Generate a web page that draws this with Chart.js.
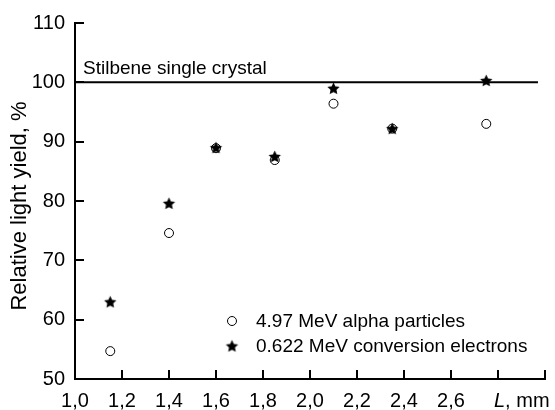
<!DOCTYPE html>
<html>
<head>
<meta charset="utf-8">
<script src="https://cdn.jsdelivr.net/npm/chart.js@4.4.1/dist/chart.umd.min.js"></script>
<style>
  html, body { margin: 0; padding: 0; background: #fff; }
  #wrap { width: 555px; height: 410px; }
</style>
</head>
<body>
<div id="wrap"><canvas id="chart" width="555" height="410"></canvas></div>
<script>
// data
const thickness = [1.15, 1.4, 1.6, 1.85, 2.1, 2.35, 2.75];
const alphaYield = [54.7, 74.6, 88.9, 86.9, 96.4, 92.2, 93.0];
const electronYield = [63.0, 79.6, 89.0, 87.5, 99.0, 92.2, 100.3];
const crystalSpan = [1.0, 2.97];
const crystalLevel = [100, 100];
const seriesLabels = ['4.97 MeV alpha particles', '0.622 MeV conversion electrons'];
const crystalLabel = 'Stilbene single crystal';
const yTitle = 'Relative light yield, %';
const xTitleVar = 'L';
const xTitleUnit = ', mm';

const FONT = "'Liberation Sans', Arial, sans-serif";

const makeStar = (r) => {
  const size = Math.ceil(r * 2) + 2;
  const c = document.createElement('canvas');
  c.width = size;
  c.height = size;
  const g = c.getContext('2d');
  g.fillStyle = '#000';
  g.beginPath();
  for (let i = 0; i < 10; i++) {
    const rad = i % 2 ? r * 0.48 : r;
    const a = -Math.PI / 2 + i * Math.PI / 5;
    g.lineTo(size / 2 + rad * Math.cos(a), size / 2 + 0.6 + rad * Math.sin(a));
  }
  g.closePath();
  g.fill();
  return c;
};
const starImg = makeStar(6.5);

const toPoints = (xs, ys) => xs.map((x, i) => ({ x, y: ys[i] }));

// ticks drawn inside the axes, like the original
const innerTicks = {
  id: 'innerTicks',
  afterDatasetsDraw(chart) {
    const { ctx, chartArea } = chart;
    const xs = chart.scales.x;
    const ys = chart.scales.y;
    ctx.save();
    ctx.strokeStyle = '#000';
    ctx.lineWidth = 2;
    ctx.beginPath();
    xs.ticks.forEach((t) => {
      if (t.value <= xs.min + 1e-6) return;
      const px = Math.round(xs.getPixelForValue(t.value));
      ctx.moveTo(px, chartArea.bottom);
      ctx.lineTo(px, chartArea.bottom - 9);
    });
    ys.ticks.forEach((t) => {
      if (t.value <= ys.min + 1e-6) return;
      const py = Math.round(ys.getPixelForValue(t.value));
      ctx.moveTo(chartArea.left, py);
      ctx.lineTo(chartArea.left + 9, py);
    });
    ctx.stroke();
    ctx.restore();
  },
};

const annotations = {
  id: 'annotations',
  afterDraw(chart) {
    const { ctx, chartArea } = chart;
    const ys = chart.scales.y;
    ctx.save();
    ctx.fillStyle = '#000';
    ctx.font = `19px ${FONT}`;
    ctx.textBaseline = 'alphabetic';
    ctx.textAlign = 'left';
    ctx.fillText(crystalLabel, chartArea.left + 8, ys.getPixelForValue(crystalLevel[0]) - 8);

    // legend
    ctx.textBaseline = 'middle';
    const lx = 232;
    const ly = [321, 346];
    ctx.beginPath();
    ctx.arc(lx, ly[0], 4.5, 0, Math.PI * 2);
    ctx.fillStyle = '#fff';
    ctx.fill();
    ctx.lineWidth = 1;
    ctx.strokeStyle = '#000';
    ctx.stroke();
    ctx.drawImage(starImg, lx - starImg.width / 2, ly[1] - starImg.height / 2);
    ctx.fillStyle = '#000';
    ctx.fillText(seriesLabels[0], 256, ly[0] + 1);
    ctx.fillText(seriesLabels[1], 256, ly[1] + 1);

    // x axis title in place of the last tick labels
    ctx.textBaseline = 'alphabetic';
    ctx.font = `italic 20px ${FONT}`;
    const tx = 494;
    const ty = 407;
    ctx.fillText(xTitleVar, tx, ty);
    const w = ctx.measureText(xTitleVar).width;
    ctx.font = `20px ${FONT}`;
    ctx.fillText(xTitleUnit, tx + w, ty);

    // y axis title, sits a little below the plot centre in the original
    ctx.translate(20, (chartArea.top + chartArea.bottom) / 2 + 5);
    ctx.rotate(-Math.PI / 2);
    ctx.textAlign = 'center';
    ctx.textBaseline = 'middle';
    ctx.font = `22px ${FONT}`;
    ctx.fillText(yTitle, 0, 0);
    ctx.restore();
  },
};

new Chart(document.getElementById('chart'), {
  type: 'scatter',
  data: {
    datasets: [
      {
        label: seriesLabels[1],
        data: toPoints(thickness, electronYield),
        pointStyle: starImg,
        order: 0,
      },
      {
        label: seriesLabels[0],
        data: toPoints(thickness, alphaYield),
        pointStyle: 'circle',
        pointRadius: 4.5,
        pointBorderWidth: 1,
        pointBorderColor: '#000',
        pointBackgroundColor: '#fff',
        order: 1,
      },
      {
        type: 'line',
        label: crystalLabel,
        data: toPoints(crystalSpan, crystalLevel),
        borderColor: '#000',
        borderWidth: 2,
        pointRadius: 0,
        order: 2,
      },
    ],
  },
  options: {
    responsive: false,
    animation: false,
    devicePixelRatio: 1,
    layout: { padding: { left: 0, right: 2, top: 23, bottom: 0 } },
    plugins: {
      legend: { display: false },
      tooltip: { enabled: false },
    },
    scales: {
      x: {
        type: 'linear',
        min: 1.0,
        max: 3.0,
        grid: { display: false, drawTicks: false },
        border: { display: true, width: 2, color: '#000' },
        ticks: {
          stepSize: 0.2,
          padding: 10,
          color: '#000',
          font: { family: FONT, size: 20 },
          maxRotation: 0,
          autoSkip: false,
          callback: (v) => (v > 2.7 ? '' : Number(v).toFixed(1).replace('.', ',')),
        },
        afterFit: (scale) => { scale.height = 31; },
      },
      y: {
        min: 50,
        max: 110,
        grid: { display: false, drawTicks: false },
        border: { display: true, width: 2, color: '#000' },
        ticks: {
          stepSize: 10,
          padding: 10,
          color: '#000',
          font: { family: FONT, size: 20 },
        },
        afterFit: (scale) => { scale.width = 75; },
      },
    },
  },
  plugins: [innerTicks, annotations],
});
</script>
</body>
</html>
